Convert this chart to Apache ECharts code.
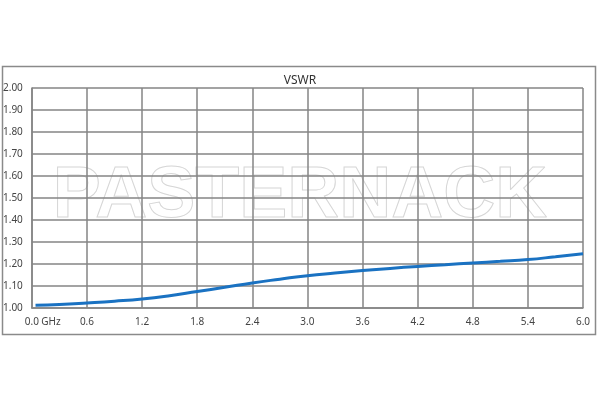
<!DOCTYPE html>
<html>
<head>
<meta charset="utf-8">
<script src="https://cdn.jsdelivr.net/npm/echarts@6/dist/echarts.min.js"></script>
<style>html,body{margin:0;padding:0;background:#fff;}#c{width:600px;height:400px;}</style>
</head>
<body>
<div id="c"></div>
<script>
var freqGHz = [0.04, 0.3, 0.6, 0.9, 1.2, 1.5, 1.8, 2.1, 2.4, 2.7, 3.0, 3.3, 3.6, 3.9, 4.2, 4.5, 4.8, 5.1, 5.4, 5.7, 6.0];
var vswr    = [1.012, 1.016, 1.023, 1.031, 1.041, 1.056, 1.075, 1.094, 1.114, 1.131, 1.147, 1.159, 1.170, 1.180, 1.189, 1.197, 1.205, 1.212, 1.220, 1.233, 1.247];
var chartTitle = 'VSWR';
var xUnit = 'GHz';
var watermark = 'PASTERNACK';

var pts = freqGHz.map(function (f, i) { return [f, vswr[i]]; });
var chart = echarts.init(document.getElementById('c'));
var gridColor = '#858585';
var font = '"Noto Sans", "Open Sans", sans-serif';
chart.setOption({
  animation: false,
  backgroundColor: '#fff',
  title: {
    text: chartTitle, left: 'center', top: 70,
    textStyle: { fontSize: 12, fontWeight: 'normal', color: '#333', fontFamily: font }
  },
  grid: { left: 31, right: 17, top: 88, bottom: 92 },
  xAxis: {
    type: 'value', min: 0, max: 6, interval: 0.6,
    axisLine: { show: true, lineStyle: { color: gridColor, width: 1.5 } },
    axisTick: { show: false },
    axisLabel: { margin: 9, fontSize: 10, color: '#444', fontFamily: font,
      formatter: function (v) { return v.toFixed(1); } },
    splitLine: { show: true, lineStyle: { color: gridColor, width: 1.5 } }
  },
  yAxis: {
    type: 'value', min: 1, max: 2, interval: 0.1,
    axisLine: { show: true, lineStyle: { color: gridColor, width: 1.5 } },
    axisTick: { show: false },
    axisLabel: { margin: 9, fontSize: 10, color: '#444', fontFamily: font,
      formatter: function (v) { return v.toFixed(2); } },
    splitLine: { show: true, lineStyle: { color: gridColor, width: 1.5 } }
  },
  graphic: [
    { type: 'rect', z: -20, shape: { x: 2.5, y: 66.5, width: 593, height: 268 },
      style: { fill: 'none', stroke: '#8a8a8a', lineWidth: 1.5 } },
    { type: 'text', z: -10, x: 300, y: 197,
      style: { text: watermark, font: 'bold 72px "Liberation Sans", Arial, sans-serif',
        fill: 'rgba(255,255,255,0)', stroke: '#d6d6d6', lineWidth: 1,
        textAlign: 'center', textVerticalAlign: 'middle' } },
    { type: 'text', x: 51, y: 322,
      style: { text: xUnit, font: '10px ' + font, fill: '#444',
        textAlign: 'center', textVerticalAlign: 'middle' } }
  ],
  series: [{
    type: 'line', data: pts, smooth: true, showSymbol: false, symbol: 'none',
    lineStyle: { color: '#1a72c2', width: 3 }, z: 5
  }]
});
</script>
</body>
</html>
